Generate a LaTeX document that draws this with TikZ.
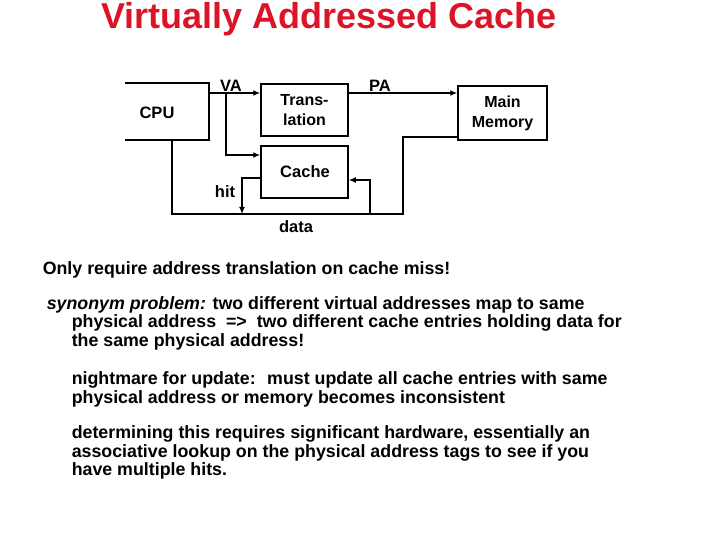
\documentclass[tikz,border=0pt]{standalone}
\usepackage{fontspec}
\usetikzlibrary{arrows.meta}
\setmainfont{Liberation Sans}
\begin{document}
\begin{tikzpicture}[x=1pt,y=-1pt,line width=1.5pt,
  bx/.style={draw,align=center,inner sep=0pt,font=\bfseries\fontsize{16}{20}\selectfont},
  lb/.style={font=\bfseries\fontsize{16.5}{20}\selectfont,inner sep=0pt},
  tx/.style={font=\bfseries\fontsize{17.8}{18.5}\selectfont,inner sep=0pt,anchor=north west,align=left},
  ar/.style={-{Latex[length=7pt,width=6pt]}}]
\useasboundingbox (0,0) rectangle (720,540);
\node[font=\bfseries\fontsize{36}{40}\selectfont,text={rgb,255:red,220;green,20;blue,40}] (title) at (329,19) {Virtually Addressed Cache};
\draw (125,83) -- (209,83) -- (209,140) -- (125,140);
\node[lb] (cpu) at (157,113) {CPU};
\node[bx,minimum width=87,minimum height=52] (tr) at (304.5,110) {Trans-\\lation};
\node[bx,minimum width=87,minimum height=52] (ca) at (304.5,172) {};
\node[lb] (catx) at (305,172) {Cache};
\node[bx,minimum width=89,minimum height=54] (mm) at (502.5,113) {Main\\Memory};
\coordinate (v0) at (209,93);
\coordinate (v1) at (226,93);
\draw[ar] (v0) -- (tr.west |- v0);
\draw[ar] (v1) |- (ca.west |- 0,155);
\draw[ar] (tr.east |- v0) -- (mm.west |- v0);
\coordinate (d0) at (172,140);
\coordinate (d1) at (403,214);
\draw (d0) |- (d1) |- (mm.west |- 0,137);
\draw[ar] (ca.west |- 0,178) -| (242,214);
\draw[ar] (370,214) |- (ca.east |- 0,180);
\node[lb] (va) at (231,86) {VA};
\node[lb] (pa) at (380,86) {PA};
\node[lb] (hit) at (225,192) {hit};
\node[lb] (data) at (296,227) {data};
\node[tx] (t1) at (42,261) {Only require address translation on cache miss!};
\node[tx] (t2) at (46,296) {\textit{synonym problem:} two different virtual addresses map to same};
\node[tx] (t3) at (71,314) {physical address \ => \ two different cache entries holding data for\\the same physical address!};
\node[tx] (t4) at (71,371) {nightmare for update: \ must update all cache entries with same\\physical address or memory becomes inconsistent};
\node[tx] (t5) at (71,425) {determining this requires significant hardware, essentially an\\associative lookup on the physical address tags to see if you\\have multiple hits.};
\end{tikzpicture}
\end{document}
